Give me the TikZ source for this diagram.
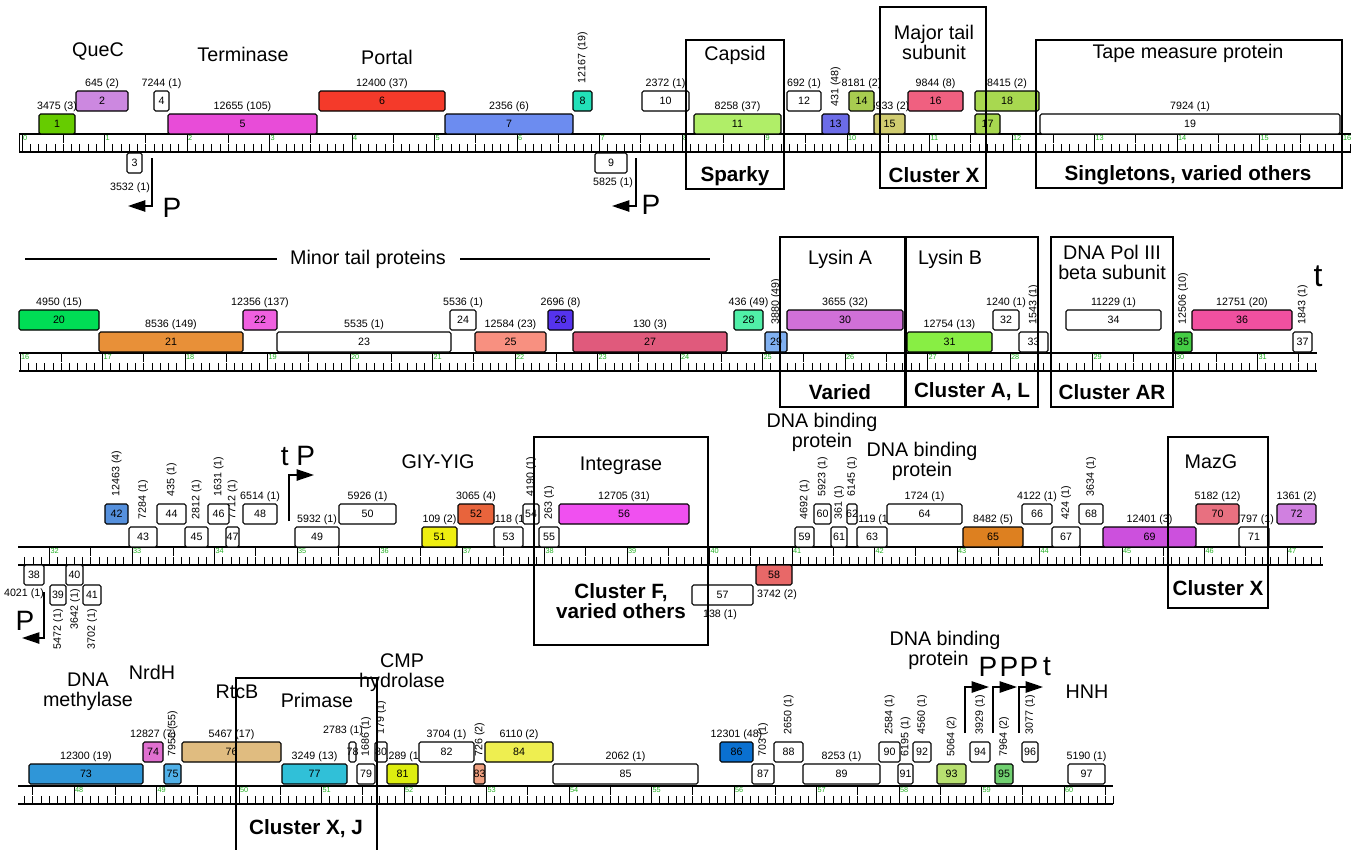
\documentclass[tikz,border=0pt]{standalone}
\usepackage{fontspec}
\setmainfont{Liberation Sans}
\usetikzlibrary{arrows.meta,calc}
\pgfdeclarelayer{labs}
\pgfdeclarelayer{front}
\pgfsetlayers{labs,main,front}
\definecolor{kbgreen}{HTML}{22B022}
\definecolor{c1}{HTML}{66CC00}
\definecolor{c2}{HTML}{CC88E0}
\definecolor{c5}{HTML}{E84CD8}
\definecolor{c6}{HTML}{F43A2A}
\definecolor{c7}{HTML}{6C8CF0}
\definecolor{c8}{HTML}{22E0B8}
\definecolor{c11}{HTML}{B0EE68}
\definecolor{c13}{HTML}{6C6CE8}
\definecolor{c14}{HTML}{A8CC50}
\definecolor{c15}{HTML}{D0CC70}
\definecolor{c16}{HTML}{F06080}
\definecolor{c17}{HTML}{A8D850}
\definecolor{c20}{HTML}{00DD55}
\definecolor{c21}{HTML}{E89038}
\definecolor{c22}{HTML}{F060E0}
\definecolor{c25}{HTML}{F89080}
\definecolor{c26}{HTML}{5533EE}
\definecolor{c27}{HTML}{E05A7C}
\definecolor{c28}{HTML}{50F0A8}
\definecolor{c29}{HTML}{80B0F0}
\definecolor{c30}{HTML}{D070D8}
\definecolor{c31}{HTML}{88EE44}
\definecolor{c35}{HTML}{44CC44}
\definecolor{c36}{HTML}{F050A0}
\definecolor{c42}{HTML}{5590DD}
\definecolor{c51}{HTML}{EEEE10}
\definecolor{c52}{HTML}{E8643C}
\definecolor{c56}{HTML}{F050F0}
\definecolor{c58}{HTML}{E86868}
\definecolor{c65}{HTML}{DD8020}
\definecolor{c69}{HTML}{CC50DD}
\definecolor{c70}{HTML}{E87080}
\definecolor{c72}{HTML}{D080E0}
\definecolor{c73}{HTML}{2F96D8}
\definecolor{c74}{HTML}{E070D0}
\definecolor{c75}{HTML}{50B0E8}
\definecolor{c76}{HTML}{E0BC80}
\definecolor{c77}{HTML}{30C0D8}
\definecolor{c81}{HTML}{DDEE10}
\definecolor{c83}{HTML}{F0A080}
\definecolor{c84}{HTML}{EEEE50}
\definecolor{c86}{HTML}{0A70D0}
\definecolor{c93}{HTML}{B8E070}
\definecolor{c95}{HTML}{70D070}
\tikzset{
 gbox/.style={draw=black, line width=0.85pt, rounded corners=1.2pt, anchor=north west, minimum height=15pt, inner sep=0pt, outer sep=0pt},
 gnum/.style={font=\fontsize{8}{9}\selectfont, inner sep=0pt},
 glab/.style={font=\fontsize{8}{9}\selectfont, inner sep=0pt},
 ttl/.style={font=\fontsize{14.8}{16}\selectfont, inner sep=0pt},
 cl/.style={font=\fontsize{15.5}{17}\selectfont\bfseries, inner sep=0pt},
 frame/.style={draw=black, line width=1.15pt},
 rline/.style={line width=0.8pt},
 tick/.style={line width=0.6pt},
 kbl/.style={font=\fontsize{5.5}{6}\selectfont, text=kbgreen, inner sep=0pt, anchor=north west},
 prom/.style={line width=1.1pt, -{Triangle[length=13pt,width=8.5pt]}},
 pl/.style={font=\fontsize{21}{22}\selectfont, inner sep=0pt},
}
\newcommand{\rulerrow}[7]{%
  \draw[rline] (#2,#1) -- (#3,#1);
  \draw[rline] (#2,#1+18) -- (#3,#1+18);
  \foreach \i in {#6,...,#7}{%
    \pgfmathsetmacro\xx{#4+8.25*(\i-10*#5)}%
    \pgfmathtruncatemacro\mten{mod(\i,10)}%
    \pgfmathtruncatemacro\mfive{mod(\i,5)}%
    \ifnum\mten=0
      \draw[tick] (\xx,#1) -- (\xx,#1+18);
      \pgfmathtruncatemacro\kb{\i/10}%
      \node[kbl] (kb\kb) at (\xx+0.8,#1+1.2) {\kb};
    \else\ifnum\mfive=0
      \draw[tick] (\xx,#1) -- (\xx,#1+9);
      \draw[tick] (\xx,#1+18) -- (\xx,#1+10);
    \else
      \draw[tick] (\xx,#1+18) -- (\xx,#1+10);
    \fi\fi
  }}
\newcommand{\gene}[5]{%
  \pgfmathsetmacro\gw{(#3-#2)*0.75}%
  \node[gbox, fill=#5, minimum width=\gw pt] (g#1) at (#2,#4) {};
  \node[gnum] (n#1) at (g#1.center) {#1};}
\newcommand{\lab}[2]{\begin{pgfonlayer}{labs}\node[glab, anchor=base] (l#1) at ([yshift=3.6pt]g#1.north) {#2};\end{pgfonlayer}}
\newcommand{\rlab}[2]{\begin{pgfonlayer}{labs}\node[glab, rotate=90, anchor=west] (l#1) at ([yshift=5.5pt]g#1.north) {#2};\end{pgfonlayer}}
\newcommand{\plab}[4]{\begin{pgfonlayer}{labs}\node[glab] (l#1) at (#2,#3) {#4};\end{pgfonlayer}}
\newcommand{\dlab}[4]{\begin{pgfonlayer}{labs}\node[glab, rotate=90, anchor=east] (l#1) at (#2,#3) {#4};\end{pgfonlayer}}
\begin{document}
\begin{tikzpicture}[x=0.75pt,y=-0.75pt]
\useasboundingbox (0,0) rectangle (1351,849);
% ---------- rulers ----------
\rulerrow{134}{19}{1351}{22}{0}{0}{161}
\draw[tick] (19,134) -- (19,152);
\rulerrow{353}{19}{1317}{20}{16}{160}{317}
\rulerrow{547}{18}{1323}{49.5}{32}{317}{474}
\rulerrow{786}{18}{1113}{74}{48}{474}{606}
% ---------- row 1 ----------
\gene{1}{39}{75}{114}{c1} \lab{1}{3475 (3)}
\gene{2}{76}{128}{91}{c2} \lab{2}{645 (2)}
\gene{3}{127}{142}{153}{white} \plab{3}{130}{188}{3532 (1)}
\gene{4}{154}{169}{91}{white} \lab{4}{7244 (1)}
\gene{5}{168}{317}{114}{c5} \lab{5}{12655 (105)}
\gene{6}{319}{445}{91}{c6} \lab{6}{12400 (37)}
\gene{7}{445}{573}{114}{c7} \lab{7}{2356 (6)}
\gene{8}{573}{592}{91}{c8} \rlab{8}{12167 (19)}
\gene{9}{595}{627}{153}{white} \plab{9}{613}{183}{5825 (1)}
\gene{10}{642}{689}{91}{white} \lab{10}{2372 (1)}
\gene{11}{694}{781}{114}{c11} \lab{11}{8258 (37)}
\gene{12}{787}{821}{91}{white} \lab{12}{692 (1)}
\gene{13}{822}{849}{114}{c13} \rlab{13}{431 (48)}
\gene{14}{849}{874}{91}{c14} \lab{14}{8181 (2)}
\gene{15}{874}{905}{114}{c15} \lab{15}{6933 (2)}
\gene{16}{908}{963}{91}{c16} \lab{16}{9844 (8)}
\gene{17}{975}{1000}{114}{c17}
\gene{18}{975}{1039}{91}{c17} \lab{18}{8415 (2)}
\gene{19}{1040}{1340}{114}{white} \lab{19}{7924 (1)}
\coordinate (pa1) at (152,158); \coordinate (pb1) at (128,206);
\draw[prom] (pa1) |- (pb1);
\node[pl] (P1) at (172,208) {P};
\coordinate (pa2) at (636,158); \coordinate (pb2) at (612,206);
\draw[prom] (pa2) |- (pb2);
\node[pl] (P2) at (651,205) {P};
\node[ttl] (tQueC) at (98,51) {QueC};
\node[ttl] (tTerm) at (243,54) {Terminase};
\node[ttl] (tPortal) at (387,57) {Portal};
\node[ttl] (tCapsid) at (735,55) {Capsid};
\node[cl] (cSparky) at (735,176) {Sparky};
\node[ttl, align=center] (tMajor) at (934,42) {Major tail\\[-1pt]subunit};
\node[cl] (cX1) at (934,175) {Cluster X};
\node[ttl] (tTape) at (1188,53) {Tape measure protein};
\node[cl] (cSing) at (1188,175) {Singletons, varied others};
\begin{pgfonlayer}{front}
\draw[frame] (686,40) rectangle (784,189);
\draw[frame] (880,7) rectangle (986,188);
\draw[frame] (1036,40) rectangle (1342,188);
\end{pgfonlayer}
% ---------- row 2 ----------
\gene{20}{19}{99}{310}{c20} \lab{20}{4950 (15)}
\gene{21}{99}{243}{332}{c21} \lab{21}{8536 (149)}
\gene{22}{243}{277}{310}{c22} \lab{22}{12356 (137)}
\gene{23}{277}{451}{332}{white} \lab{23}{5535 (1)}
\gene{24}{450}{476}{310}{white} \lab{24}{5536 (1)}
\gene{25}{475}{546}{332}{c25} \lab{25}{12584 (23)}
\gene{26}{548}{573}{310}{c26} \lab{26}{2696 (8)}
\gene{27}{573}{727}{332}{c27} \lab{27}{130 (3)}
\gene{28}{734}{763}{310}{c28} \lab{28}{436 (49)}
\gene{29}{765}{787}{332}{c29} \rlab{29}{3880 (49)}
\gene{30}{787}{903}{310}{c30} \lab{30}{3655 (32)}
\gene{31}{907}{992}{332}{c31} \lab{31}{12754 (13)}
\gene{32}{993}{1019}{310}{white} \lab{32}{1240 (1)}
\gene{33}{1019}{1048}{332}{white} \rlab{33}{1543 (1)}
\gene{34}{1066}{1161}{310}{white} \lab{34}{11229 (1)}
\gene{35}{1174}{1192}{332}{c35} \rlab{35}{12506 (10)}
\gene{36}{1192}{1292}{310}{c36} \lab{36}{12751 (20)}
\gene{37}{1293}{1312}{332}{white} \rlab{37}{1843 (1)}
\node[font=\fontsize{24}{26}\selectfont, inner sep=0pt] (tt2) at (1318,276) {t};
\node[ttl] (tMinor) at (368,259) {Minor tail proteins};
\coordinate (ml1) at (25,259); \coordinate (ml2) at (277,259);
\coordinate (ml3) at (460,259); \coordinate (ml4) at (710,259);
\draw[line width=1pt] (ml1) -- (ml2);
\draw[line width=1pt] (ml3) -- (ml4);
\node[ttl] (tLysA) at (840,259) {Lysin A};
\node[cl] (cVaried) at (840,392) {Varied};
\node[ttl] (tLysB) at (950,259) {Lysin B};
\node[cl] (cAL) at (972,392) {Cluster A, L};
\node[ttl, align=center] (tPol) at (1112,262) {DNA Pol III\\[-1pt]beta subunit};
\node[cl] (cAR) at (1112,392) {Cluster AR};
\begin{pgfonlayer}{front}
\draw[frame] (780,237) rectangle (905,407);
\draw[frame] (906,237) rectangle (1038,407);
\draw[frame] (1051,237) rectangle (1173,407);
\end{pgfonlayer}
% ---------- row 3 ----------
\gene{38}{24}{44}{565}{white} \plab{38}{24}{594}{4021 (1)}
\gene{39}{50}{66}{585}{white} \dlab{39}{58}{609}{5472 (1)}
\gene{40}{66}{83}{565}{white} \dlab{40}{75}{589}{3642 (1)}
\gene{41}{83}{101}{585}{white} \dlab{41}{92}{609}{3702 (1)}
\gene{42}{105}{128}{504}{c42} \rlab{42}{12463 (4)}
\gene{43}{129}{157}{527}{white} \rlab{43}{7284 (1)}
\gene{44}{157}{186}{504}{white} \rlab{44}{435 (1)}
\gene{45}{185}{208}{527}{white} \rlab{45}{2812 (1)}
\gene{46}{208}{229}{504}{white} \rlab{46}{1631 (1)}
\gene{47}{226}{239}{527}{white} \rlab{47}{7712 (1)}
\gene{48}{243}{277}{504}{white} \lab{48}{6514 (1)}
\gene{49}{295}{339}{527}{white} \lab{49}{5932 (1)}
\gene{50}{339}{396}{504}{white} \lab{50}{5926 (1)}
\gene{51}{422}{457}{527}{c51} \lab{51}{109 (2)}
\gene{52}{458}{494}{504}{c52} \lab{52}{3065 (4)}
\gene{53}{494}{523}{527}{white} \lab{53}{4118 (1)}
\gene{54}{523}{539}{504}{white} \rlab{54}{4190 (1)}
\gene{55}{539}{559}{527}{white} \rlab{55}{263 (1)}
\gene{56}{559}{689}{504}{c56} \lab{56}{12705 (31)}
\gene{57}{692}{753}{585}{white} \plab{57}{720}{615}{138 (1)}
\gene{58}{756}{792}{565}{c58} \plab{58}{777}{595}{3742 (2)}
\gene{59}{795}{814}{527}{white} \rlab{59}{4692 (1)}
\gene{60}{814}{831}{504}{white} \rlab{60}{5923 (1)}
\gene{61}{831}{847}{527}{white} \rlab{61}{361 (1)}
\gene{62}{847}{857}{504}{white} \rlab{62}{6145 (1)}
\gene{63}{857}{887}{527}{white} \lab{63}{4119 (1)}
\gene{64}{887}{962}{504}{white} \lab{64}{1724 (1)}
\gene{65}{963}{1023}{527}{c65} \lab{65}{8482 (5)}
\gene{66}{1022}{1052}{504}{white} \lab{66}{4122 (1)}
\gene{67}{1052}{1080}{527}{white} \rlab{67}{424 (1)}
\gene{68}{1079}{1103}{504}{white} \rlab{68}{3634 (1)}
\gene{69}{1103}{1196}{527}{c69} \lab{69}{12401 (3)}
\gene{70}{1196}{1239}{504}{c70} \lab{70}{5182 (12)}
\gene{71}{1239}{1269}{527}{white} \lab{71}{7797 (1)}
\gene{72}{1277}{1316}{504}{c72} \lab{72}{1361 (2)}
\coordinate (pa3) at (44,592); \coordinate (pb3) at (22,638);
\draw[prom] (pa3) |- (pb3);
\node[pl] (P3) at (25,621) {P};
\coordinate (pa4) at (289,521); \coordinate (pb4) at (314,475);
\draw[prom] (pa4) |- (pb4);
\node[pl] (P4) at (298,456) {t P};
\node[ttl] (tGIY) at (438,462) {GIY-YIG};
\node[ttl] (tInt) at (621,466) {Integrase};
\node[cl, align=center] (cF) at (621,601) {Cluster F,\\[-2pt]varied others};
\node[ttl, align=center] (tDNAb1) at (822,432) {DNA binding\\[-1pt]protein};
\node[ttl, align=center] (tDNAb2) at (922,461) {DNA binding\\[-1pt]protein};
\node[ttl] (tMazG) at (1211,462) {MazG};
\node[cl] (cX3) at (1218,588) {Cluster X};
\begin{pgfonlayer}{front}
\draw[frame] (534,437) rectangle (708,645);
\draw[frame] (1168,437) rectangle (1268,608);
\end{pgfonlayer}
% ---------- row 4 ----------
\gene{73}{29}{143}{764}{c73} \lab{73}{12300 (19)}
\gene{74}{143}{163}{742}{c74} \lab{74}{12827 (7)}
\gene{75}{164}{181}{764}{c75} \rlab{75}{7956 (55)}
\gene{76}{182}{281}{742}{c76} \lab{76}{5467 (17)}
\gene{77}{282}{347}{764}{c77} \lab{77}{3249 (13)}
\gene{78}{349}{356}{742}{white} \plab{78}{343}{731}{2783 (1)}
\gene{79}{357}{375}{764}{white} \rlab{79}{1686 (1)}
\gene{80}{375}{387}{742}{white} \rlab{80}{179 (1)}
\gene{81}{387}{418}{764}{c81} \lab{81}{1289 (1)}
\gene{82}{419}{474}{742}{white} \lab{82}{3704 (1)}
\gene{83}{474}{485}{764}{c83} \rlab{83}{726 (2)}
\gene{84}{485}{553}{742}{c84} \lab{84}{6110 (2)}
\gene{85}{553}{698}{764}{white} \lab{85}{2062 (1)}
\gene{86}{720}{753}{742}{c86} \lab{86}{12301 (48)}
\gene{87}{752}{774}{764}{white} \rlab{87}{703 (1)}
\gene{88}{774}{803}{742}{white} \rlab{88}{2650 (1)}
\gene{89}{803}{880}{764}{white} \lab{89}{8253 (1)}
\gene{90}{879}{900}{742}{white} \rlab{90}{2584 (1)}
\gene{91}{898}{913}{764}{white} \rlab{91}{6195 (1)}
\gene{92}{913}{931}{742}{white} \rlab{92}{4560 (1)}
\gene{93}{937}{966}{764}{c93} \rlab{93}{5064 (2)}
\gene{94}{970}{990}{742}{white} \rlab{94}{3929 (1)}
\gene{95}{995}{1013}{764}{c95} \rlab{95}{7964 (2)}
\gene{96}{1022}{1038}{742}{white} \rlab{96}{3077 (1)}
\gene{97}{1068}{1105}{764}{white} \lab{97}{5190 (1)}
\coordinate (pa5) at (965,733); \coordinate (pb5) at (989,687);
\draw[prom] (pa5) |- (pb5);
\coordinate (pa6) at (993,733); \coordinate (pb6) at (1017,687);
\draw[prom] (pa6) |- (pb6);
\coordinate (pa7) at (1019,733); \coordinate (pb7) at (1043,687);
\draw[prom] (pa7) |- (pb7);
\node[pl] (P5) at (988,667) {P};
\node[pl] (P6) at (1009,667) {P};
\node[pl] (P7) at (1029,667) {P};
\node[pl] (T7) at (1047,667) {t};
\node[ttl, align=center] (tMeth) at (88,692) {DNA\\[-1pt]methylase};
\node[ttl] (tNrdH) at (152,672) {NrdH};
\node[ttl] (tRtcB) at (237,692) {RtcB};
\node[ttl] (tPrim) at (317,700) {Primase};
\node[ttl, align=center] (tCMP) at (402,673) {CMP\\[-1pt]hydrolase};
\node[ttl, align=center] (tDNAb3) at (945,650) {DNA binding\\[-1pt]protein\phantom{P}};
\node[ttl] (tHNH) at (1087,692) {HNH};
\node[cl] (cXJ) at (306,829) {Cluster X, J};
\begin{pgfonlayer}{front}
\draw[frame] (236,851) -- (236,678) -- (377,678) -- (377,851);
\end{pgfonlayer}
\end{tikzpicture}
\end{document}
